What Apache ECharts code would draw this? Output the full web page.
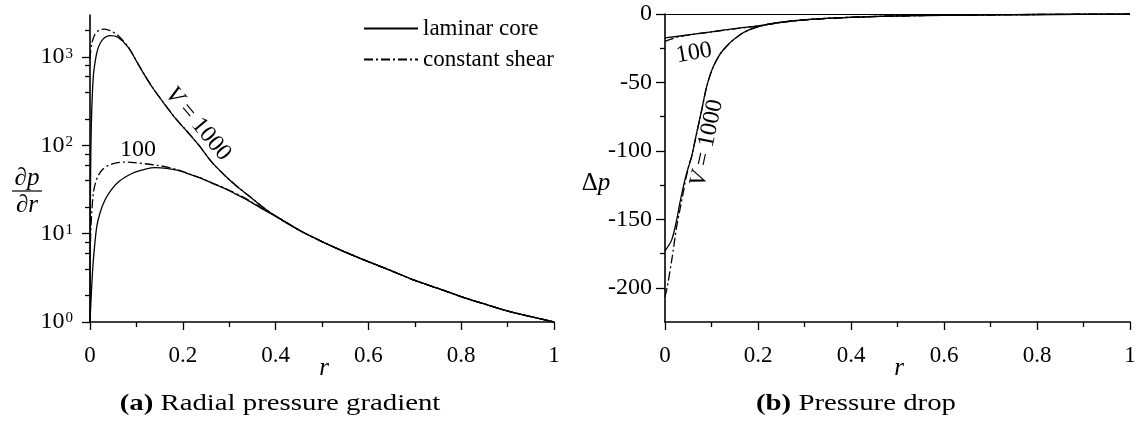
<!DOCTYPE html>
<html>
<head>
<meta charset="utf-8">
<script src="https://cdn.jsdelivr.net/npm/echarts@6/dist/echarts.min.js"></script>
<style>
html,body{margin:0;padding:0;background:#fff;}
#chart{width:1144px;height:423px;}
</style>
</head>
<body>
<div id="chart"></div>
<script>
// ---------- data ----------
const legendNames = ['laminar core', 'constant shear'];
const xTickValues = [0, 0.2, 0.4, 0.6, 0.8, 1];
const xTickLabels = ['0', '0.2', '0.4', '0.6', '0.8', '1'];
const logTickValues = [1, 10, 100, 1000];
const logTickExp = ['0', '1', '2', '3'];
const logMinorValues = [2, 4, 6, 8, 20, 40, 60, 80, 200, 400, 600, 800, 2000];
const dpTickValues = [-200, -150, -100, -50, 0];
const dpTickLabels = ['-200', '-150', '-100', '-50', '0'];
const dpMinorValues = [-175, -125, -75, -25];

// (a) radial pressure gradient  [r, dp/dr]
const gradLam1000 = [[0,1],[0.001,30],[0.003,180],[0.007,590],[0.012,950],[0.018,1290],[0.028,1600],[0.043,1750],[0.06,1680],[0.0825,1290],[0.1,900],[0.115,660],[0.135,450],[0.16,296],[0.185,200],[0.21,142],[0.235,100],[0.262,65],[0.29,46],[0.315,35],[0.34,27.5],[0.37,20.5],[0.4,15.8],[0.453,10.8],[0.501,8.1],[0.55,6.2],[0.601,4.8],[0.65,3.8],[0.697,3.0],[0.75,2.4],[0.801,1.93],[0.85,1.6],[0.905,1.31],[0.95,1.15],[1,1]];
const gradShear1000 = [[0,950],[0.0036,1410],[0.011,1830],[0.02,2020],[0.032,2080],[0.045,1980],[0.061,1750],[0.0825,1300],[0.1,905],[0.115,662],[0.135,452],[0.16,297],[0.185,201],[0.21,143],[0.235,100],[0.262,65],[0.29,46],[0.315,35],[0.34,27.5],[0.37,20.5],[0.4,15.8],[0.453,10.8],[0.501,8.1],[0.55,6.2],[0.601,4.8],[0.65,3.8],[0.697,3.0],[0.75,2.4],[0.801,1.93],[0.85,1.6],[0.905,1.31],[0.95,1.15],[1,1]];
const gradLam100 = [[0,1],[0.0036,2.5],[0.0072,5],[0.0144,11.9],[0.022,17.5],[0.032,23.9],[0.045,31],[0.061,38.5],[0.08,45],[0.097,49.9],[0.12,54],[0.14,56],[0.165,55],[0.19,52],[0.215,47],[0.241,42],[0.265,37],[0.291,32.4],[0.312,28.5],[0.334,25],[0.355,21.5],[0.377,18.4],[0.409,14.8],[0.453,10.8],[0.501,8.1],[0.55,6.2],[0.601,4.8],[0.65,3.8],[0.697,3.0],[0.75,2.4],[0.801,1.93],[0.85,1.6],[0.905,1.31],[0.95,1.15],[1,1]];
const gradShear100 = [[0.001,8],[0.002,12],[0.007,28.5],[0.012,38],[0.018,45.8],[0.028,54],[0.0395,59.4],[0.055,63],[0.075,64.7],[0.095,64],[0.1185,62],[0.145,59.5],[0.169,56.5],[0.19,52.8],[0.215,47.4],[0.241,42.3],[0.265,37.2],[0.291,32.7],[0.334,25.3],[0.377,18.6],[0.409,14.9],[0.453,10.8],[0.501,8.1],[0.55,6.2],[0.601,4.8],[0.65,3.8],[0.697,3.0],[0.75,2.4],[0.801,1.93],[0.85,1.6],[0.905,1.31],[0.95,1.15],[1,1]];

// (b) pressure drop  [r, delta p]
const dropLam1000 = [[0,-173],[0.0144,-165],[0.025,-150.6],[0.032,-138],[0.043,-121],[0.052,-110],[0.0574,-104],[0.068,-87],[0.079,-70],[0.0896,-53],[0.104,-38.3],[0.1255,-26.1],[0.161,-15.2],[0.2,-9.3],[0.247,-6.1],[0.32,-3.7],[0.4,-2.4],[0.462,-1.7],[0.6,-0.9],[0.8,-0.35],[1,0]];
const dropShear1000 = [[0,-206.7],[0.005,-199],[0.0144,-180],[0.025,-155.5],[0.032,-143],[0.039,-131],[0.045,-120],[0.052,-110],[0.0574,-104],[0.068,-87.3],[0.079,-70.2],[0.0896,-53.2],[0.104,-38.4],[0.1255,-26.2],[0.161,-15.3],[0.2,-9.4],[0.247,-6.1],[0.32,-3.7],[0.4,-2.4],[0.462,-1.7],[0.6,-0.9],[0.8,-0.35],[1,0]];
const dropLam100 = [[0,-17.5],[0.05,-15.3],[0.1,-13],[0.15,-10.7],[0.2,-8.7],[0.247,-6.2],[0.32,-3.8],[0.4,-2.4],[0.462,-1.7],[0.6,-0.9],[0.8,-0.35],[1,0]];
const dropShear100 = [[0,-20],[0.01,-18.8],[0.025,-17],[0.05,-15.4],[0.1,-13.1],[0.15,-10.8],[0.2,-8.8],[0.247,-6.2],[0.32,-3.8],[0.4,-2.4],[0.462,-1.7],[0.6,-0.9],[0.8,-0.35],[1,0]];

// ---------- styling ----------
const FONT = '"Liberation Serif", "Times New Roman", serif';
const BLACK = '#000';
const solid = { color: BLACK, width: 1.3, type: 'solid' };
const dashdot = { color: BLACK, width: 1.3, type: [9, 3, 2, 3] };

function xAxisFor(grid) {
  return {
    type: 'value', gridIndex: grid, min: 0, max: 1, interval: 0.2,
    axisLine: { show: true, onZero: false, lineStyle: { color: BLACK, width: 1.6 } },
    axisTick: { show: true, inside: false, length: 8, lineStyle: { color: BLACK, width: 1.3 } },
    minorTick: { show: true, splitNumber: 2, length: 5, lineStyle: { color: BLACK, width: 1.3 } },
    splitLine: { show: false }, minorSplitLine: { show: false },
    axisLabel: {
      color: BLACK, fontFamily: FONT, fontSize: 23, margin: 22,
      formatter: v => { const i = xTickValues.findIndex(t => Math.abs(t - v) < 1e-6); return i >= 0 ? xTickLabels[i] : ''; }
    }
  };
}

const option = {
  animation: false,
  backgroundColor: '#fff',
  grid: [
    { left: 90, top: 15, width: 464, height: 307, outerBoundsMode: 'none', containLabel: false },
    { left: 665, top: 14, width: 465, height: 308, outerBoundsMode: 'none', containLabel: false }
  ],
  legend: {
    left: 363, top: 17, padding: 0, orient: 'vertical', itemWidth: 54, itemHeight: 14, itemGap: 8,
    data: legendNames,
    itemStyle: { opacity: 0 },
    textStyle: { color: BLACK, fontFamily: FONT, fontSize: 23, lineHeight: 22 },
    inactiveColor: '#999'
  },
  xAxis: [xAxisFor(0), xAxisFor(1)],
  yAxis: [
    {
      type: 'log', logBase: 10, gridIndex: 0, min: 1, max: 3000, position: 'left',
      axisLine: { show: true, lineStyle: { color: BLACK, width: 1.6 } },
      axisTick: { show: true, inside: false, length: 8, customValues: logTickValues, lineStyle: { color: BLACK, width: 1.3 } },
      splitLine: { show: false },
      axisLabel: {
        customValues: logTickValues, margin: 17, color: BLACK, fontFamily: FONT, fontSize: 23,
        formatter: v => { const i = logTickValues.findIndex(t => Math.abs(t - v) / t < 1e-6); return i >= 0 ? '{b|10}{s|' + logTickExp[i] + '}' : ''; },
        rich: {
          b: { fontFamily: FONT, fontSize: 24, color: BLACK, lineHeight: 26 },
          s: { fontFamily: FONT, fontSize: 15, color: BLACK, lineHeight: 15, verticalAlign: 'top', padding: [2, 0, 0, 1] }
        }
      }
    },
    {
      type: 'log', logBase: 10, gridIndex: 0, min: 1, max: 3000, position: 'left', offset: 0,
      axisLine: { show: false },
      axisTick: { show: true, inside: false, length: 5, customValues: logMinorValues, lineStyle: { color: BLACK, width: 1.3 } },
      axisLabel: { show: false }, splitLine: { show: false }
    },
    {
      type: 'value', gridIndex: 1, min: -225, max: 0, position: 'left',
      axisLine: { show: true, onZero: false, lineStyle: { color: BLACK, width: 1.6 } },
      axisTick: { show: true, inside: false, length: 9, customValues: dpTickValues, lineStyle: { color: BLACK, width: 1.3 } },
      splitLine: { show: false },
      axisLabel: {
        customValues: dpTickValues, margin: 13, color: BLACK, fontFamily: FONT, fontSize: 24,
        formatter: v => { const i = dpTickValues.findIndex(t => Math.abs(t - v) < 1e-6); return i >= 0 ? dpTickLabels[i] : ''; }
      }
    },
    {
      type: 'value', gridIndex: 1, min: -225, max: 0, position: 'left', offset: 0,
      axisLine: { show: false },
      axisTick: { show: true, inside: false, length: 5, customValues: dpMinorValues, lineStyle: { color: BLACK, width: 1.3 } },
      axisLabel: { show: false }, splitLine: { show: false }
    }
  ],
  series: [
    { name: legendNames[0], type: 'line', xAxisIndex: 0, yAxisIndex: 0, data: gradLam1000, symbol: 'none', smooth: 0.3, lineStyle: solid, itemStyle: { color: BLACK }, z: 3 },
    { name: legendNames[0], type: 'line', xAxisIndex: 0, yAxisIndex: 0, data: gradLam100, symbol: 'none', smooth: 0.3, lineStyle: solid, itemStyle: { color: BLACK }, z: 3 },
    { name: legendNames[1], type: 'line', xAxisIndex: 0, yAxisIndex: 0, data: gradShear1000, symbol: 'none', smooth: 0.3, lineStyle: dashdot, itemStyle: { color: BLACK }, z: 2 },
    { name: legendNames[1], type: 'line', xAxisIndex: 0, yAxisIndex: 0, data: gradShear100, symbol: 'none', smooth: 0.3, lineStyle: dashdot, itemStyle: { color: BLACK }, z: 2 },
    { name: legendNames[0], type: 'line', xAxisIndex: 1, yAxisIndex: 2, data: dropLam1000, symbol: 'none', smooth: 0.3, lineStyle: solid, itemStyle: { color: BLACK }, z: 3,
      markLine: { silent: true, symbol: 'none', label: { show: false }, lineStyle: { color: BLACK, width: 1, type: 'solid' }, data: [{ yAxis: 0 }] } },
    { name: legendNames[0], type: 'line', xAxisIndex: 1, yAxisIndex: 2, data: dropLam100, symbol: 'none', smooth: 0.3, lineStyle: solid, itemStyle: { color: BLACK }, z: 3 },
    { name: legendNames[1], type: 'line', xAxisIndex: 1, yAxisIndex: 2, data: dropShear1000, symbol: 'none', smooth: 0.3, lineStyle: dashdot, itemStyle: { color: BLACK }, z: 2 },
    { name: legendNames[1], type: 'line', xAxisIndex: 1, yAxisIndex: 2, data: dropShear100, symbol: 'none', smooth: 0.3, lineStyle: dashdot, itemStyle: { color: BLACK }, z: 2 }
  ],
  graphic: [
    // y-axis title (a): dp/dr
    { type: 'text', x: 27, y: 178, style: { text: '{d|∂}{i|p}', align: 'center', verticalAlign: 'middle',
      rich: { d: { fontFamily: FONT, fontSize: 25, fill: BLACK }, i: { fontFamily: FONT, fontSize: 25, fontStyle: 'italic', fill: BLACK } } } },
    { type: 'line', shape: { x1: 12, y1: 191, x2: 42, y2: 191 }, style: { stroke: BLACK, lineWidth: 1.2 } },
    { type: 'text', x: 27, y: 205, style: { text: '{d|∂}{i|r}', align: 'center', verticalAlign: 'middle',
      rich: { d: { fontFamily: FONT, fontSize: 25, fill: BLACK }, i: { fontFamily: FONT, fontSize: 25, fontStyle: 'italic', fill: BLACK } } } },
    // y-axis title (b): delta p
    { type: 'text', x: 596, y: 183, style: { text: '{d|Δ}{i|p}', align: 'center', verticalAlign: 'middle',
      rich: { d: { fontFamily: FONT, fontSize: 25, fill: BLACK }, i: { fontFamily: FONT, fontSize: 25, fontStyle: 'italic', fill: BLACK } } } },
    // x-axis titles
    { type: 'text', x: 324, y: 368, style: { text: 'r', align: 'center', verticalAlign: 'middle', fontFamily: FONT, fontSize: 25, fontStyle: 'italic', fill: BLACK } },
    { type: 'text', x: 899, y: 368, style: { text: 'r', align: 'center', verticalAlign: 'middle', fontFamily: FONT, fontSize: 25, fontStyle: 'italic', fill: BLACK } },
    // curve labels
    { type: 'text', x: 198, y: 124, rotation: -0.87, style: { text: '{i|V} = 1000', align: 'center', verticalAlign: 'middle', fontFamily: FONT, fontSize: 24, fill: BLACK,
      rich: { i: { fontFamily: FONT, fontSize: 24, fontStyle: 'italic', fill: BLACK } } } },
    { type: 'text', x: 138, y: 150, style: { text: '100', align: 'center', verticalAlign: 'middle', fontFamily: FONT, fontSize: 24, fill: BLACK } },
    { type: 'text', x: 707, y: 143, rotation: 1.36, style: { text: '{i|V} = 1000', align: 'center', verticalAlign: 'middle', fontFamily: FONT, fontSize: 24, fill: BLACK,
      rich: { i: { fontFamily: FONT, fontSize: 24, fontStyle: 'italic', fill: BLACK } } } },
    { type: 'text', x: 694, y: 53, rotation: 0.17, style: { text: '100', align: 'center', verticalAlign: 'middle', fontFamily: FONT, fontSize: 24, fill: BLACK } },
    // captions
    { type: 'text', x: 280, y: 404, scaleX: 1.2, style: { text: '{b|(a)} Radial pressure gradient', align: 'center', verticalAlign: 'middle', fontFamily: FONT, fontSize: 24, fill: BLACK,
      rich: { b: { fontFamily: FONT, fontSize: 24, fontWeight: 'bold', fill: BLACK } } } },
    { type: 'text', x: 856, y: 404, scaleX: 1.2, style: { text: '{b|(b)} Pressure drop', align: 'center', verticalAlign: 'middle', fontFamily: FONT, fontSize: 24, fill: BLACK,
      rich: { b: { fontFamily: FONT, fontSize: 24, fontWeight: 'bold', fill: BLACK } } } }
  ]
};

const chart = echarts.init(document.getElementById('chart'), null, { renderer: 'canvas' });
chart.setOption(option);
</script>
</body>
</html>
